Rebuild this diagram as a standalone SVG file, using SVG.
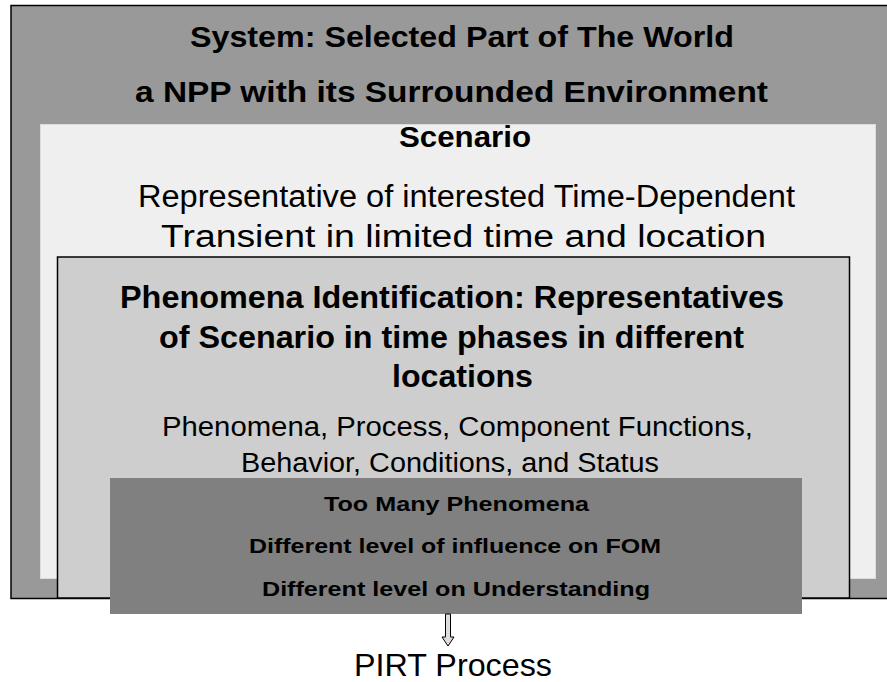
<svg xmlns="http://www.w3.org/2000/svg" width="887" height="682" viewBox="0 0 887 682">
<style>
text{font-family:"Liberation Sans",Arial,sans-serif;fill:#000;text-anchor:middle}
.b{font-weight:bold}
</style>
<rect width="887" height="682" fill="#fff"/>
<g id="system">
<rect x="11" y="5.5" width="890" height="593" fill="#999" stroke="#000" stroke-width="1.5"/>
<text class="b" x="462" y="47" font-size="29.5" textLength="544" lengthAdjust="spacingAndGlyphs">System: Selected Part of The World</text>
<text class="b" x="451.5" y="102" font-size="29.5" textLength="633" lengthAdjust="spacingAndGlyphs">a NPP with its Surrounded Environment</text>
</g>
<g id="scenario">
<rect x="40.5" y="124.5" width="835" height="454" fill="#efefef" stroke="#dcdcdc" stroke-width="1"/>
<text class="b" x="465" y="147" font-size="29.5" textLength="132" lengthAdjust="spacingAndGlyphs">Scenario</text>
<text x="466.5" y="207" font-size="31" textLength="657" lengthAdjust="spacingAndGlyphs">Representative of interested Time-Dependent</text>
<text x="463.5" y="247" font-size="31" textLength="605" lengthAdjust="spacingAndGlyphs">Transient in limited time and location</text>
</g>
<g id="phenomena">
<rect x="57.5" y="257" width="792" height="341" fill="#cecece" stroke="#000" stroke-width="1.5"/>
<text class="b" x="452" y="308" font-size="31" textLength="664" lengthAdjust="spacingAndGlyphs">Phenomena Identification: Representatives</text>
<text class="b" x="451.5" y="348" font-size="31" textLength="585" lengthAdjust="spacingAndGlyphs">of Scenario in time phases in different</text>
<text class="b" x="462.5" y="387" font-size="31" textLength="141" lengthAdjust="spacingAndGlyphs">locations</text>
<text x="457.5" y="436" font-size="27" textLength="591" lengthAdjust="spacingAndGlyphs">Phenomena, Process, Component Functions,</text>
<text x="450" y="472" font-size="27" textLength="418" lengthAdjust="spacingAndGlyphs">Behavior, Conditions, and Status</text>
</g>
<g id="issues">
<rect x="110" y="478" width="692" height="136" fill="#808080"/>
<text class="b" x="456.5" y="511" font-size="21" textLength="265" lengthAdjust="spacingAndGlyphs">Too Many Phenomena</text>
<text class="b" x="455" y="553" font-size="21" textLength="412" lengthAdjust="spacingAndGlyphs">Different level of influence on FOM</text>
<text class="b" x="456" y="596" font-size="21" textLength="388" lengthAdjust="spacingAndGlyphs">Different level on Understanding</text>
</g>
<g id="connectors">
<path d="M445.5,614 V637 H442 L448,646 L454,637 H450.5 V614 Z" fill="#ddd" stroke="#000" stroke-width="1"/>
</g>
<g id="pirt">
<text x="453" y="676" font-size="32" textLength="198" lengthAdjust="spacingAndGlyphs">PIRT Process</text>
</g>
</svg>
